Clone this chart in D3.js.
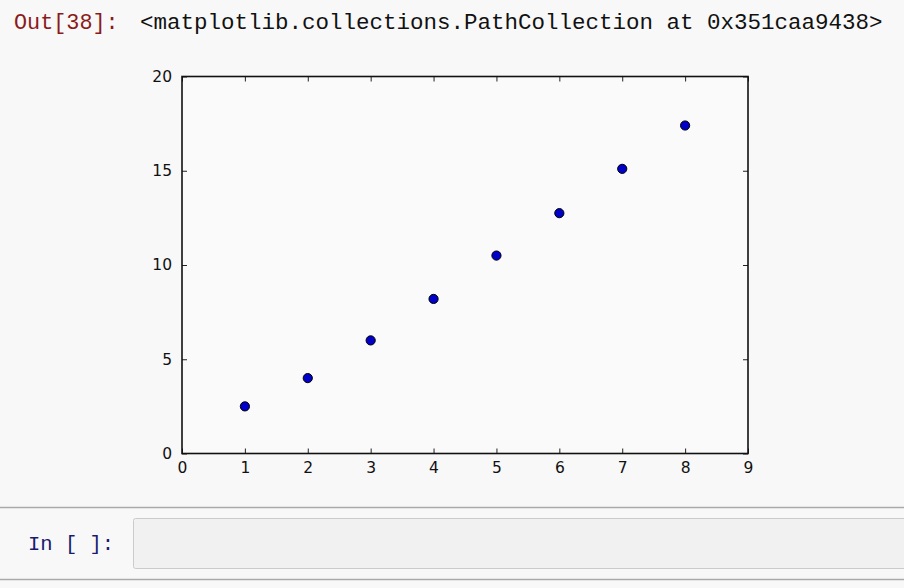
<!DOCTYPE html>
<html>
<head>
<meta charset="utf-8">
<script src="https://cdn.jsdelivr.net/npm/d3@7"></script>
<style>
  html, body { margin: 0; padding: 0; background: #f8f8f8; }
  svg { display: block; }
</style>
</head>
<body>
<svg id="chart" width="904" height="588"></svg>
<script>
const xValues = [1, 2, 3, 4, 5, 6, 7, 8];
const yValues = [2.5, 4.0, 6.0, 8.2, 10.5, 12.75, 15.1, 17.4];
const xTicks = [0, 1, 2, 3, 4, 5, 6, 7, 8, 9];
const yTicks = [0, 5, 10, 15, 20];
const outPrompt = "Out[38]:";
const outText = "<matplotlib.collections.PathCollection at 0x351caa9438>";
const inPrompt = "In [ ]:";

const svg = d3.select("#chart");
svg.append("rect").attr("x", 0).attr("y", 0).attr("width", 904).attr("height", 588).attr("fill", "#f8f8f8");

// Output prompt text
svg.append("text").attr("x", 14).attr("y", 29)
  .attr("font-family", "Liberation Mono, monospace").attr("font-size", 21.8)
  .attr("fill", "#8b1a1a").text(outPrompt);
svg.append("text").attr("x", 140).attr("y", 29)
  .attr("font-family", "Liberation Mono, monospace").attr("font-size", 22.5)
  .attr("fill", "#111").text(outText);

const pL = 182, pR = 748, pT = 76.5, pB = 453.5;
const x = d3.scaleLinear().domain([0, 9]).range([pL, pR]);
const y = d3.scaleLinear().domain([0, 20]).range([pB, pT]);

svg.append("rect").attr("x", pL).attr("y", pT).attr("width", pR - pL).attr("height", pB - pT)
  .attr("fill", "#fafafa");

const tickFont = "DejaVu Sans, sans-serif";
const fs = 15.5;

const gx = svg.append("g").attr("transform", `translate(0,${pB})`)
  .call(d3.axisBottom(x).tickValues(xTicks).tickFormat(d3.format("d")).tickSize(-5).tickPadding(8));
const gxt = svg.append("g").attr("transform", `translate(0,${pT})`)
  .call(d3.axisTop(x).tickValues(xTicks).tickFormat("").tickSize(-5));
const gy = svg.append("g").attr("transform", `translate(${pL},0)`)
  .call(d3.axisLeft(y).tickValues(yTicks).tickFormat(d3.format("d")).tickSize(-5).tickPadding(10));
const gyr = svg.append("g").attr("transform", `translate(${pR},0)`)
  .call(d3.axisRight(y).tickValues(yTicks).tickFormat("").tickSize(-5));

[gx, gxt, gy, gyr].forEach(g => {
  g.select(".domain").remove();
  g.selectAll(".tick line").attr("stroke", "#222").attr("stroke-width", 1);
  g.selectAll("text").attr("font-family", tickFont).attr("font-size", fs).attr("fill", "#111");
});

svg.append("rect").attr("x", pL).attr("y", pT).attr("width", pR - pL).attr("height", pB - pT)
  .attr("fill", "none").attr("stroke", "#111").attr("stroke-width", 1.6);

svg.append("g").selectAll("circle").data(xValues).join("circle")
  .attr("cx", (d) => x(d)).attr("cy", (d, i) => y(yValues[i])).attr("r", 4.6)
  .attr("fill", "#0000c8").attr("stroke", "#000").attr("stroke-width", 1);

// input cell
svg.append("line").attr("x1", 0).attr("x2", 904).attr("y1", 507.5).attr("y2", 507.5).attr("stroke", "#aaa").attr("stroke-width", 1.5);
svg.append("line").attr("x1", 0).attr("x2", 904).attr("y1", 579.5).attr("y2", 579.5).attr("stroke", "#aaa").attr("stroke-width", 1.5);
svg.append("rect").attr("x", 133.5).attr("y", 518.5).attr("width", 790).attr("height", 50).attr("rx", 2)
  .attr("fill", "#f1f1f1").attr("stroke", "#cbcbcb").attr("stroke-width", 1);
svg.append("text").attr("x", 28).attr("y", 550)
  .attr("font-family", "Liberation Mono, monospace").attr("font-size", 20.5)
  .attr("fill", "#1a1a6e").text(inPrompt);
</script>
</body>
</html>
